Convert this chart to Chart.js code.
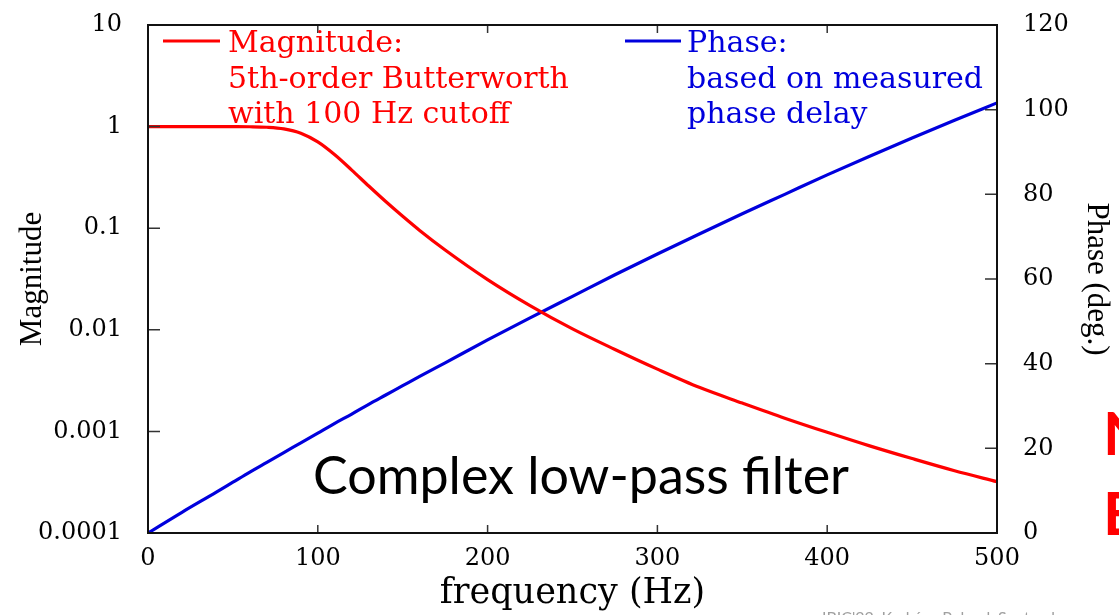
<!DOCTYPE html>
<html>
<head>
<meta charset="utf-8">
<style>
  html, body { margin: 0; padding: 0; background: #fff; }
  canvas { display: block; }
</style>
<script src="https://cdn.jsdelivr.net/npm/chart.js@4"></script>
</head>
<body>
<canvas id="grafico" width="1119" height="615"></canvas>
<script>
// frequency samples (Hz)
const frequency = [0, 20, 40, 50, 60, 70, 80, 90, 100, 110, 120, 130, 140, 150, 160, 175,
  200, 225, 250, 275, 300, 325, 350, 375, 400, 425, 450, 475, 500];

// red curve, left log axis
const magnitude = [1, 1, 1, 0.9995, 0.997, 0.986, 0.95, 0.861, 0.707, 0.528, 0.373, 0.26, 0.183,
  0.131, 0.095, 0.061, 0.0312, 0.0173, 0.0102, 0.0064, 0.0041, 0.0027, 0.0019, 0.00135,
  0.00098, 0.00072, 0.00054, 0.00041, 0.00032];

// blue curve, right axis (deg.)
const phase = [0, 4.9, 9.6, 12.0, 14.4, 16.7, 19.0, 21.3, 23.6, 25.9, 28.1, 30.4, 32.6, 34.8,
  37.0, 40.2, 45.6, 50.8, 55.9, 61.0, 65.9, 70.7, 75.4, 80.0, 84.6, 89.0, 93.3, 97.5, 101.6];

const magnitudeTicks = [0.0001, 0.001, 0.01, 0.1, 1, 10];
const phaseTicks = [0, 20, 40, 60, 80, 100, 120];
const frequencyTicks = [0, 100, 200, 300, 400, 500];

const magnitudeLegend = ['Magnitude:', '5th-order Butterworth', 'with 100 Hz cutoff'];
const phaseLegend = ['Phase:', 'based on measured', 'phase delay'];
const annotation = 'Complex low-pass filter';

const RED = '#ff0000';
const BLUE = '#0000dd';
const tickFont = { family: 'DejaVu Serif', size: 24 };

// frame with inward tick marks on all four sides
const moldura = {
    id: 'moldura',
    afterDatasetsDraw(chart) {
        const { ctx, chartArea: a, scales } = chart;
        ctx.save();
        ctx.strokeStyle = '#333';
        ctx.lineWidth = 1.5;
        ctx.beginPath();
        magnitudeTicks.forEach(v => {
            const y = scales.y.getPixelForValue(v);
            ctx.moveTo(a.left, y); ctx.lineTo(a.left + 12, y);
        });
        phaseTicks.forEach(v => {
            const y = scales.y1.getPixelForValue(v);
            ctx.moveTo(a.right, y); ctx.lineTo(a.right - 12, y);
        });
        frequencyTicks.forEach(v => {
            const x = scales.x.getPixelForValue(v);
            ctx.moveTo(x, a.bottom); ctx.lineTo(x, a.bottom - 8);
            ctx.moveTo(x, a.top); ctx.lineTo(x, a.top + 8);
        });
        ctx.stroke();
        ctx.strokeStyle = '#111';
        ctx.lineWidth = 2;
        ctx.strokeRect(a.left, a.top, a.right - a.left, a.bottom - a.top);
        ctx.restore();
    }
};

// legend inside the plot + slide texts
const textos = {
    id: 'textos',
    afterDraw(chart) {
        const { ctx } = chart;
        ctx.save();
        ctx.lineWidth = 3;
        ctx.strokeStyle = RED;
        ctx.beginPath(); ctx.moveTo(163, 41); ctx.lineTo(220, 41); ctx.stroke();
        ctx.strokeStyle = BLUE;
        ctx.beginPath(); ctx.moveTo(625, 41); ctx.lineTo(681, 41); ctx.stroke();

        ctx.font = '30px "DejaVu Serif"';
        ctx.textBaseline = 'alphabetic';
        ctx.textAlign = 'left';
        const baselines = [52, 88, 123];
        ctx.fillStyle = RED;
        magnitudeLegend.forEach((t, i) => ctx.fillText(t, 228, baselines[i]));
        ctx.fillStyle = BLUE;
        phaseLegend.forEach((t, i) => ctx.fillText(t, 687, baselines[i]));

        ctx.fillStyle = '#000';
        ctx.font = '52px Lato';
        ctx.fillText(annotation, 313, 494);

        ctx.fillStyle = RED;
        ctx.font = 'bold 60px Lato';
        ctx.fillText('N', 1103, 455);
        ctx.fillText('E', 1103, 535);

        ctx.fillStyle = '#a0a0a0';
        ctx.font = '16px Lato';
        ctx.fillText('IBIC\'22, Kraków, Poland, September', 822, 623);
        ctx.restore();
    }
};

const dataFiltro = {
    labels: frequency,
    datasets: [
        {
            label: 'Magnitude',
            data: frequency.map((f, i) => ({ x: f, y: magnitude[i] })),
            borderColor: RED,
            backgroundColor: RED,
            borderWidth: 3.2,
            pointRadius: 0,
            cubicInterpolationMode: 'monotone',
            yAxisID: 'y'
        },
        {
            label: 'Phase',
            data: frequency.map((f, i) => ({ x: f, y: phase[i] })),
            borderColor: BLUE,
            backgroundColor: BLUE,
            borderWidth: 3.2,
            pointRadius: 0,
            cubicInterpolationMode: 'monotone',
            yAxisID: 'y1'
        }
    ]
};

// vertical axes: fixed width, and keep the plot top at 25px
const fixVertical = width => s => {
    s.width = width;
    s.paddingTop = 25;
    s.paddingBottom = 20;
};

const configFiltro = {
    type: 'line',
    data: dataFiltro,
    options: {
        responsive: false,
        animation: false,
        layout: { padding: 0 },
        plugins: {
            legend: { display: false },
            tooltip: { enabled: false }
        },
        scales: {
            x: {
                type: 'linear',
                position: 'bottom',
                min: 0,
                max: 500,
                afterBuildTicks: s => { s.ticks = frequencyTicks.map(v => ({ value: v })); },
                afterFit: s => { s.height = 82; },
                grid: { display: false, drawTicks: false },
                border: { display: false },
                ticks: { color: '#000', font: tickFont, padding: 11, maxRotation: 0 },
                title: {
                    display: true,
                    text: 'frequency (Hz)',
                    color: '#000',
                    font: { family: 'DejaVu Serif', size: 35 },
                    padding: { top: 0, bottom: 0 }
                }
            },
            y: {
                type: 'logarithmic',
                position: 'left',
                min: 0.0001,
                max: 10,
                afterBuildTicks: s => { s.ticks = magnitudeTicks.map(v => ({ value: v })); },
                afterFit: fixVertical(148),
                grid: { display: false, drawTicks: false },
                border: { display: false },
                ticks: { color: '#000', font: tickFont, padding: 26, callback: v => String(v) },
                title: {
                    display: true,
                    text: 'Magnitude',
                    color: '#000',
                    font: { family: 'Liberation Serif', size: 31 },
                    padding: { top: 14, bottom: 0 }
                }
            },
            y1: {
                type: 'linear',
                position: 'right',
                min: 0,
                max: 120,
                afterBuildTicks: s => { s.ticks = phaseTicks.map(v => ({ value: v })); },
                afterFit: fixVertical(122),
                grid: { display: false, drawTicks: false },
                border: { display: false },
                ticks: { color: '#000', font: tickFont, padding: 26 },
                title: {
                    display: true,
                    text: 'Phase (deg.)',
                    color: '#000',
                    font: { family: 'Liberation Serif', size: 31 },
                    padding: { top: 4, bottom: 0 }
                }
            }
        }
    },
    plugins: [moldura, textos]
};

const instanciaGrafico = new Chart(document.getElementById('grafico'), configFiltro);
</script>
</body>
</html>
